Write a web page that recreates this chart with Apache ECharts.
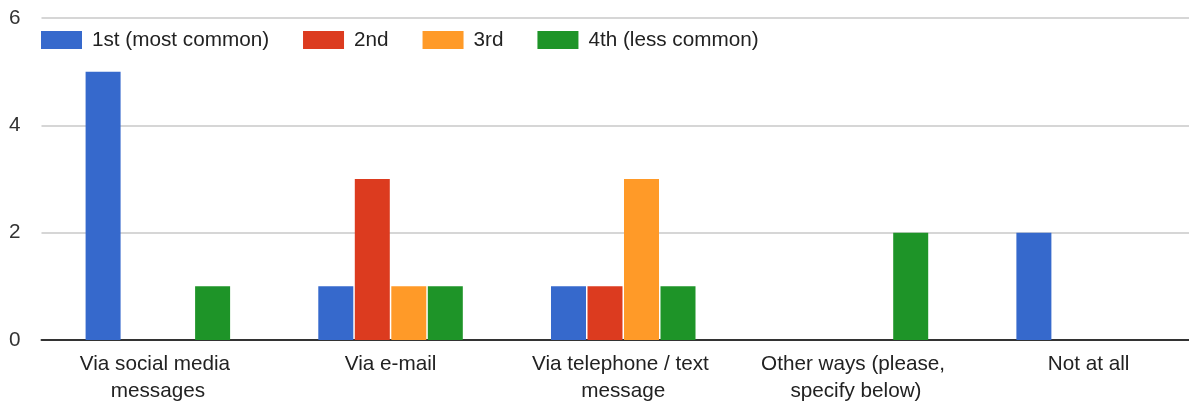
<!DOCTYPE html>
<html>
<head>
<meta charset="utf-8">
<script src="https://cdn.jsdelivr.net/npm/echarts@6/dist/echarts.min.js"></script>
<style>
html,body{margin:0;padding:0;background:#fff;overflow:hidden;width:1189px;height:405px;}
#chart{width:1205px;height:405px;}
</style>
</head>
<body>
<div id="chart"></div>
<script>
const categories = ["Via social media messages", "Via e-mail", "Via telephone / text message", "Other ways (please, specify below)", "Not at all"];
const seriesNames = ["1st (most common)", "2nd", "3rd", "4th (less common)"];
const first = [5, 1, 1, 0, 2];
const second = [0, 3, 1, 0, 0];
const third = [0, 1, 3, 0, 0];
const fourth = [1, 1, 1, 2, 0];
const colors = ["#3669cc", "#dc3b1f", "#ff9a28", "#1e9428"];
const values = [first, second, third, fourth];

const FONT = '"Liberation Sans", Arial, sans-serif';
const chart = echarts.init(document.getElementById('chart'), null, {renderer: 'canvas'});
chart.setOption({
  animation: false,
  color: colors,
  textStyle: {fontFamily: FONT},
  legend: {
    left: 41,
    top: 28,
    padding: 0,
    itemWidth: 41,
    itemHeight: 18,
    itemGap: 34,
    icon: 'rect',
    textStyle: {fontSize: 20.7, color: '#222', fontFamily: FONT, lineHeight: 24, padding: [0, 0, 0, 5]},
    data: seriesNames
  },
  grid: {left: 41.5, right: 0, top: 18, bottom: 63, containLabel: false},
  xAxis: {
    type: 'category',
    data: categories,
    axisTick: {show: false},
    axisLine: {lineStyle: {color: '#333', width: 2}},
    axisLabel: {
      interval: 0,
      margin: 11,
      fontSize: 20.7,
      lineHeight: 27,
      color: '#222',
      fontFamily: FONT,
      width: 215,
      overflow: 'break'
    }
  },
  yAxis: {
    type: 'value',
    min: 0,
    max: 6,
    interval: 2,
    axisLine: {show: false},
    axisTick: {show: false},
    axisLabel: {margin: 21, fontSize: 20.7, color: '#333', fontFamily: FONT},
    splitLine: {lineStyle: {color: '#d6d6d6', width: 2}}
  },
  series: seriesNames.map((name, i) => ({
    name: name,
    type: 'bar',
    data: values[i],
    barWidth: 35,
    barGap: '4.3%',
    itemStyle: {color: colors[i]}
  }))
});
</script>
</body>
</html>
